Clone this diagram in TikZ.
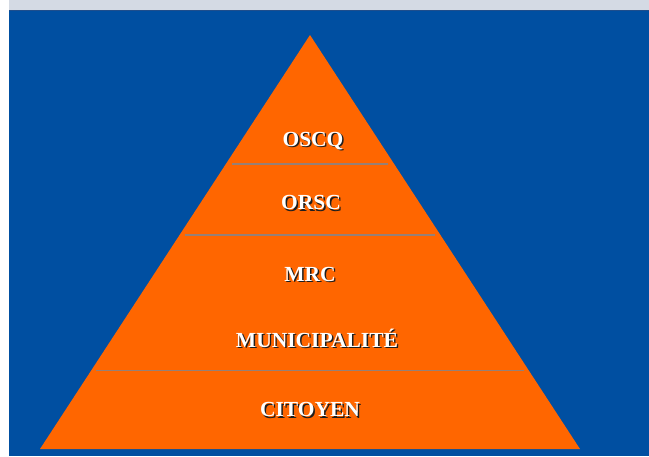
\documentclass[tikz,border=0pt]{standalone}
\usepackage{fontspec}
\setmainfont{Liberation Serif}
\usepackage{xcolor}
\usetikzlibrary{positioning}
\definecolor{slideblue}{RGB}{0,79,161}
\definecolor{stripgray}{RGB}{212,218,228}
\definecolor{stripline}{RGB}{31,78,140}
\definecolor{pyrorange}{RGB}{255,102,0}
\definecolor{layerline}{RGB}{150,128,118}
\definecolor{shadowgray}{RGB}{30,30,30}
\newcommand{\shtext}[1]{\makebox[0pt][l]{\hspace{1.5pt}\raisebox{-1.5pt}{\textcolor{shadowgray}{#1}}}#1}

\begin{document}
\begin{tikzpicture}[x=1pt,y=-1pt,
    levellabel/.style={font=\bfseries\fontsize{21.5}{25}\selectfont, text=white, inner sep=0pt, anchor=base},
    divider/.style={draw=layerline, line width=1.6pt}]
    % slide background
    \useasboundingbox (0,0) rectangle (649,456);
    \fill[white] (0,0) rectangle (649,456);
    \fill[stripgray] (9,0) rectangle (649,9.5);
    \fill[slideblue] (9,9.5) rectangle (649,456);
    \draw[stripline, line width=1pt] (9,10) -- (649,10);

    % the pyramid
    \coordinate (top) at (310,35);
    \coordinate (bl) at (40,449);
    \coordinate (br) at (580,449);
    \fill[pyrorange] (top) -- (bl) -- (br) -- cycle;

    % layer separations
    \coordinate (Lone) at (232,164);
    \coordinate (Rone) at (388,164);
    \coordinate (Ltwo) at (185,235);
    \coordinate (Rtwo) at (435,235);
    \coordinate (Lthree) at (96,370.5);
    \coordinate (Rthree) at (524,370.5);
    \draw[divider, line width=1.2pt] (Lone) -- (Rone);
    \draw[divider] (Ltwo) -- (Rtwo);
    \draw[divider, line width=1.2pt] (Lthree) -- (Rthree);

    % level labels
    \node[levellabel] (oscq) at (313,146) {\shtext{OSCQ}};
    \node[levellabel] (orsc) at (311,209.5) {\shtext{ORSC}};
    \node[levellabel] (mrc) at (310,281) {\shtext{MRC}};
    \node[levellabel] (muni) at (317,347) {\shtext{MUNICIPALITÉ}};
    \node[levellabel] (citoyen) at (310,416.5) {\shtext{CITOYEN}};
\end{tikzpicture}
\end{document}
